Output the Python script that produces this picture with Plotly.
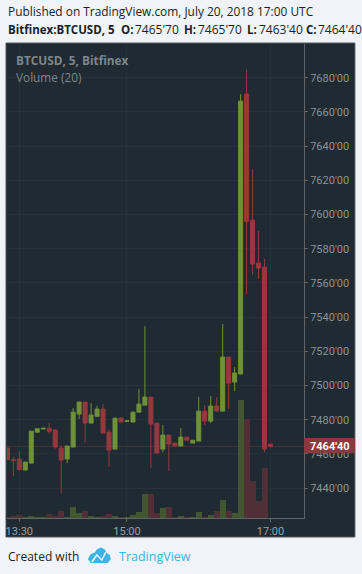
import plotly.graph_objects as go
import pandas as pd

start = "2018-07-20 13:20"
opens = [7463.4,7456.6,7457,7450.5,7454.6,7472.7,7474.5,7475,7474,7463.4,7457,7464,7483.3,7490.3,7478,7482,7486.2,7472.7,7462.8,7481,7479,7478.6,7484.4,7488.5,7493.2,7478,7462.8,7471,7466.3,7464.6,7469.8,7466.3,7467.5,7485,7479.2,7488,7485,7516.6,7502,7506.7,7670.4,7596.7,7571.6,7569.2,7465.7]
highs = [7463.4,7458.3,7461.6,7455.2,7473.3,7474.7,7475,7478,7474,7465,7464.6,7486.8,7490.3,7490.3,7489.7,7488,7489.1,7474.5,7480.9,7481,7479.3,7484.4,7497.9,7534.7,7493.2,7478,7476.8,7471,7466.3,7475,7469.8,7468,7493.2,7488.5,7493.8,7493.2,7536,7516.6,7510.8,7670.4,7684.8,7626.5,7590.3,7574,7465.7]
lows = [7456.6,7447,7450.7,7450.5,7454.6,7472.7,7474.5,7471.6,7463,7437,7454.6,7464,7480.4,7466.3,7478,7482,7472.2,7452.3,7462.8,7478.6,7479,7478.6,7484.4,7488.5,7451.7,7460.5,7461,7450,7464.6,7464.6,7468,7466.3,7467.5,7476.8,7478,7485,7485,7486.2,7496.7,7506.7,7553.5,7565,7562.2,7461,7463.4]
closes = [7456.6,7456,7450.7,7455.2,7473.3,7474.7,7475,7473.3,7464,7456.4,7464.6,7484.4,7490.3,7478,7482.7,7486.2,7472.2,7462.2,7480.9,7478.6,7479.3,7484.4,7489.1,7493.2,7477.4,7460.5,7471,7465.7,7464.6,7469.8,7468,7468,7485,7479.2,7488,7485,7516.6,7501.4,7507.3,7666.3,7596,7571,7568.7,7462.8,7464.4]
volumes = [10,20,30,10,20,10,10,40,20,70,10,110,50,70,20,10,20,40,20,5,5,30,60,240,240,50,100,110,10,20,10,3,60,10,30,70,180,70,50,1180,990,370,170,500,0]
price_ticks = [7440,7460,7480,7500,7520,7540,7560,7580,7600,7620,7640,7660,7680]
price_labels = ["7440'00","7460'00","7480'00","7500'00","7520'00","7540'00","7560'00","7580'00","7600'00","7620'00","7640'00","7660'00","7680'00"]
time_ticks = ["2018-07-20 13:30","2018-07-20 15:00","2018-07-20 17:00"]
time_labels = ["13:30","15:00","17:00"]
last_price = 7464.4

W, H = 362, 574
L, R, T, B = 7, 304.5, 44, 518
BG = "#1f2a32"; PAGE = "#f0f3f7"; GRID = "#26323b"; AXIS = "#5e6468"; TXT = "#8d9396"
UP = "#6f9137"; DOWN = "#933a3f"; UPV = "#425631"; DOWNV = "#503036"
BLUE = "#3bb4e6"

times = pd.date_range(start, periods=len(opens), freq="5min")
vcolors = [UPV if c >= o else DOWNV for o, c in zip(opens, closes)]

def px(x): return (x - L) / (R - L)
def py(y): return (B - y) / (B - T)

fig = go.Figure()
fig.add_bar(x=times, y=volumes, marker=dict(color=vcolors, line_width=0), width=300000, yaxis="y")
fig.add_candlestick(x=times, open=opens, high=highs, low=lows, close=closes, yaxis="y2", whiskerwidth=0,
    increasing=dict(line=dict(color=UP, width=1), fillcolor=UP),
    decreasing=dict(line=dict(color=DOWN, width=1), fillcolor=DOWN))

def poly(points, close=True):
    s = "M " + " L ".join("%f %f" % (px(a), py(b)) for a, b in points)
    return s + (" Z" if close else "")

shapes = [
    dict(type="rect", xref="paper", yref="paper", x0=px(6), x1=px(355.5), y0=py(537), y1=py(43),
         fillcolor=BG, line=dict(color="#50565b", width=1), layer="below"),
    dict(type="line", xref="paper", yref="y2", x0=0, x1=1, y0=last_price, y1=last_price,
         line=dict(color="#4a3239", width=1), layer="between"),
    dict(type="rect", xref="paper", yref="paper", x0=px(304.5), x1=px(355.5), y0=py(453.3), y1=py(438),
         fillcolor="#8b393d", line_width=0, layer="above"),
    dict(type="path", xref="paper", yref="paper", fillcolor=BLUE, line_width=0,
         path=poly([(88,559),(91,554),(95,552.5),(97,549.5),(101,547.5),(105,549.5),(107,553),(110,555),(111,559),(108,563),(91,563)])),
    dict(type="path", xref="paper", yref="paper", line=dict(color=PAGE, width=1.5),
         path=poly([(92,562),(97,555),(102,560),(106,552)], close=False)),
]

def note(text, x, y, size=12, color="#1b1f23", family="Open Sans", anchor="left"):
    return dict(text=text, xref="paper", yref="paper", x=px(x), y=py(y), xanchor=anchor, yanchor="middle",
                showarrow=False, align="left", font=dict(size=size, color=color, family=family))

annotations = [
    note("Published on TradingView.com, July 20, 2018 17:00 UTC", 5.5, 11, 11.9),
    note("<b>Bitfinex:BTCUSD, 5</b>", 5.5, 29, 11.5),
    note("<b>O:</b>", 119, 29, 11.5), note("7465'70", 133, 29),
    note("<b>H:</b>", 182, 29, 11.5), note("7465'70", 196, 29),
    note("<b>L:</b>", 245.5, 29, 11.5), note("7463'40", 257, 29),
    note("<b>C:</b>", 305, 29, 11.5), note("7464'40", 317, 29),
    note("<b>BTCUSD, 5, Bitfinex</b>", 14, 60, 11.8, "#7f868a"),
    note("Volume (20)", 14, 77, 11.8, "#7f868a"),
    note("Created with", 5.5, 556),
    note("TradingView", 117, 556, 12.5, BLUE),
    note("<b>7464'40</b>", 330.5, 446, 11, "#ffffff", "Roboto", "center"),
]

fig.update_layout(
    width=W, height=H, autosize=False, showlegend=False, boxgap=0.18, boxgroupgap=0.18,
    margin=dict(l=L, r=W - R, t=T, b=H - B, pad=0),
    paper_bgcolor=PAGE, plot_bgcolor=BG, shapes=shapes, annotations=annotations,
    font=dict(family="Roboto", color=TXT, size=11), bargap=0,
    xaxis=dict(type="date", range=[times[0] - pd.Timedelta(minutes=0.3), times[0] + pd.Timedelta(minutes=248)],
               tickvals=time_ticks, ticktext=time_labels, ticks="outside", ticklen=3, tickcolor=AXIS,
               showgrid=True, gridcolor=GRID, gridwidth=1, showline=True, linecolor=AXIS, linewidth=1,
               rangeslider=dict(visible=False), zeroline=False, tickfont=dict(size=11, color="#9a9fa2")),
    yaxis=dict(visible=False, range=[0, 4740], fixedrange=True),
    yaxis2=dict(overlaying="y", side="right", range=[7422.5, 7699.7], tickvals=price_ticks, ticktext=price_labels,
                ticks="outside", ticklen=3, tickcolor=AXIS, showgrid=True, gridcolor=GRID, gridwidth=1,
                showline=True, linecolor=AXIS, linewidth=1, zeroline=False, tickfont=dict(size=11, color=TXT)),
)
fig.write_html("out.html", config=dict(displayModeBar=False),
               post_script="document.body.style.margin='0';document.documentElement.style.overflow='hidden';document.documentElement.style.background='%s';" % PAGE)
